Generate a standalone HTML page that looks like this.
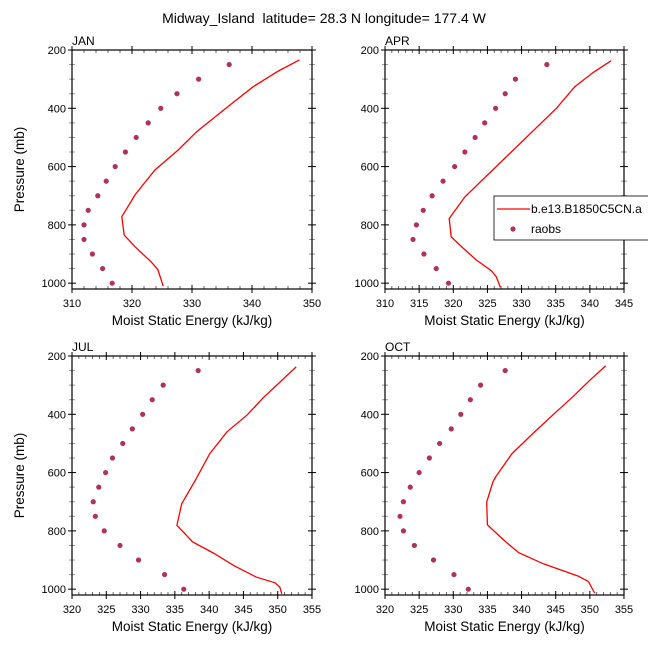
<!DOCTYPE html>
<html><head><meta charset="utf-8"><style>
body{margin:0;background:#fff;}
svg{display:block;font-family:"Liberation Sans",Arial,sans-serif;}
</style></head><body>
<svg id="chart" width="648" height="648" viewBox="0 0 648 648">
<text x="324" y="23" text-anchor="middle" font-size="14">Midway_Island&#160; latitude= 28.3 N longitude= 177.4 W</text>
</svg>
<script>
const panelNames = ["JAN","APR","JUL","OCT"];
const xRanges = [[310,350],[310,345],[320,355],[320,355]];
const obsLevels = [250,300,350,400,450,500,550,600,650,700,750,800,850,900,950,1000];
const obsJan = [336.2,331.1,327.5,324.8,322.7,320.7,318.9,317.2,315.7,314.3,312.7,312.0,312.0,313.4,315.1,316.7];
const obsApr = [333.7,329.1,327.6,326.2,324.6,323.2,321.7,320.2,318.5,316.9,315.6,314.6,314.1,315.7,317.5,319.3];
const obsJul = [338.4,333.3,331.7,330.3,328.8,327.4,325.9,324.9,323.9,323.1,323.4,324.7,327.0,329.7,333.5,336.3];
const obsOct = [337.6,334.0,332.5,331.1,329.7,328.0,326.5,325.0,323.7,322.7,322.2,322.7,324.3,327.1,330.1,332.2];
const modJanP = [234,272,326,389,480,543,612,697,772,835,875,927,953,1010];
const modJanV = [347.9,344.4,340.2,336.3,330.8,327.7,323.8,320.5,318.3,318.7,320.5,323.2,324.3,325.2];
const modAprP = [237,277,326,400,704,778,841,881,921,958,978,1015];
const modAprV = [343.1,340.5,337.8,335.1,321.7,319.4,319.7,321.5,323.4,325.6,326.3,326.9];
const modJulP = [237,288,343,403,460,535,626,707,781,838,876,919,959,978,993,1016];
const modJulV = [352.7,350.4,347.9,345.5,342.6,340.1,338.0,336.0,335.3,337.6,340.6,343.6,346.9,349.6,350.3,350.6];
const modOctP = [234,283,340,391,454,535,615,632,701,779,836,875,913,955,974,1013];
const modOctV = [352.3,350.0,347.5,345.1,342.2,338.6,336.2,335.8,334.9,335.0,337.6,339.6,343.2,348.3,349.8,350.7];
const yTicks = [200,400,600,800,1000];

const obsAll=[obsJan,obsApr,obsJul,obsOct];
const modP=[modJanP,modAprP,modJulP,modOctP];
const modV=[modJanV,modAprV,modJulV,modOctV];
const boxes=[[72,50],[385,50],[72,356],[385,356]];
const W=[240,239,240,239];
const svg=document.getElementById('chart');
const NS='http://www.w3.org/2000/svg';
function mk(tag,attrs,parent){const e=document.createElementNS(NS,tag);for(const k in attrs)e.setAttribute(k,attrs[k]);(parent||svg).appendChild(e);return e;}

for(let i=0;i<4;i++){
  const [x0,y0]=boxes[i], w=W[i], h=239;
  const [xmin,xmax]=xRanges[i];
  const xs=v=>x0+(v-xmin)/(xmax-xmin)*w;
  const ys=p=>y0+(p-200)/820*h;
  const g=mk('g',{});
  
  
  for(let v=xmin;v<=xmax+1e-6;v+=1){
    const major=Math.abs((v-xmin)%(xmax-xmin>36?10:5))<1e-6;
    const mstep=(xmax-xmin)>36?2:1;
    if(!major && Math.abs((v-xmin)%mstep)>1e-6) continue;
    const x=xs(v);
    if(major){
      mk('line',{x1:x,y1:y0+h+4,x2:x,y2:y0+h-4,stroke:'#000','stroke-width':1},g);
      mk('line',{x1:x,y1:y0-4,x2:x,y2:y0+4,stroke:'#000','stroke-width':1},g);
      const t=mk('text',{x:x,y:y0+h+18,'text-anchor':'middle','font-size':11},g);
      t.textContent=v;
      
      
    } else {
      mk('line',{x1:x,y1:y0+h,x2:x,y2:y0+h-3,stroke:'#444','stroke-width':0.8},g);
      mk('line',{x1:x,y1:y0,x2:x,y2:y0+3,stroke:'#444','stroke-width':0.8},g);
    }
  }
  for(let p=200;p<=1000;p+=50){
    const y=ys(p), major=p%200===0;
    const L=major?4:3;
    mk('line',{x1:x0-L,y1:y,x2:x0+L,y2:y,stroke:major?'#000':'#999','stroke-width':1},g);
    mk('line',{x1:x0+w-L,y1:y,x2:x0+w+L,y2:y,stroke:major?'#000':'#999','stroke-width':1},g);
  }
  yTicks.forEach(p=>{
    const t=mk('text',{x:x0-6,y:ys(p)+4,'text-anchor':'end','font-size':11},g);
    t.textContent=p;
    
    
  });
  const fr=mk('rect',{x:x0,y:y0,width:w,height:h,fill:'none',stroke:'#000','stroke-width':1.2},g);
  
  
  const lab=mk('text',{x:x0,y:y0-5,'font-size':12},g);
  lab.textContent=panelNames[i];
  
  
  const xt=mk('text',{x:x0+w/2,y:y0+h+36,'text-anchor':'middle','font-size':13.5},g);
  xt.textContent='Moist Static Energy (kJ/kg)';
  
  
  if(i%2===0){
    const yt=mk('text',{x:0,y:0,'text-anchor':'middle','font-size':13.5,transform:`translate(24,${y0+h/2}) rotate(-90)`},g);
    yt.textContent='Pressure (mb)';
    
    
  }
  const pts=modP[i].map((p,k)=>xs(modV[i][k]).toFixed(1)+','+ys(p).toFixed(1)).join(' ');
  const pl=mk('polyline',{points:pts,fill:'none',stroke:'#ff0000','stroke-width':1.3},g);
  
  
  obsLevels.forEach((p,k)=>{
    const c=mk('circle',{cx:xs(obsAll[i][k]),cy:ys(p),r:2.6,fill:'#b03060'},g);
    
    
  });
}
const lg=mk('g',{});


mk('rect',{x:494,y:196,width:160,height:44,fill:'#fff',stroke:'#000','stroke-width':0.8},lg);
mk('line',{x1:497,y1:209,x2:530,y2:209,stroke:'#ff0000','stroke-width':1.3},lg);
const l1=mk('text',{x:531,y:213,'font-size':12},lg);
l1.textContent='b.e13.B1850C5CN.a';


mk('circle',{cx:513,cy:229,r:2.6,fill:'#b03060'},lg);
const l2=mk('text',{x:531,y:233,'font-size':12},lg);
l2.textContent='raobs';


</script>
</body></html>
